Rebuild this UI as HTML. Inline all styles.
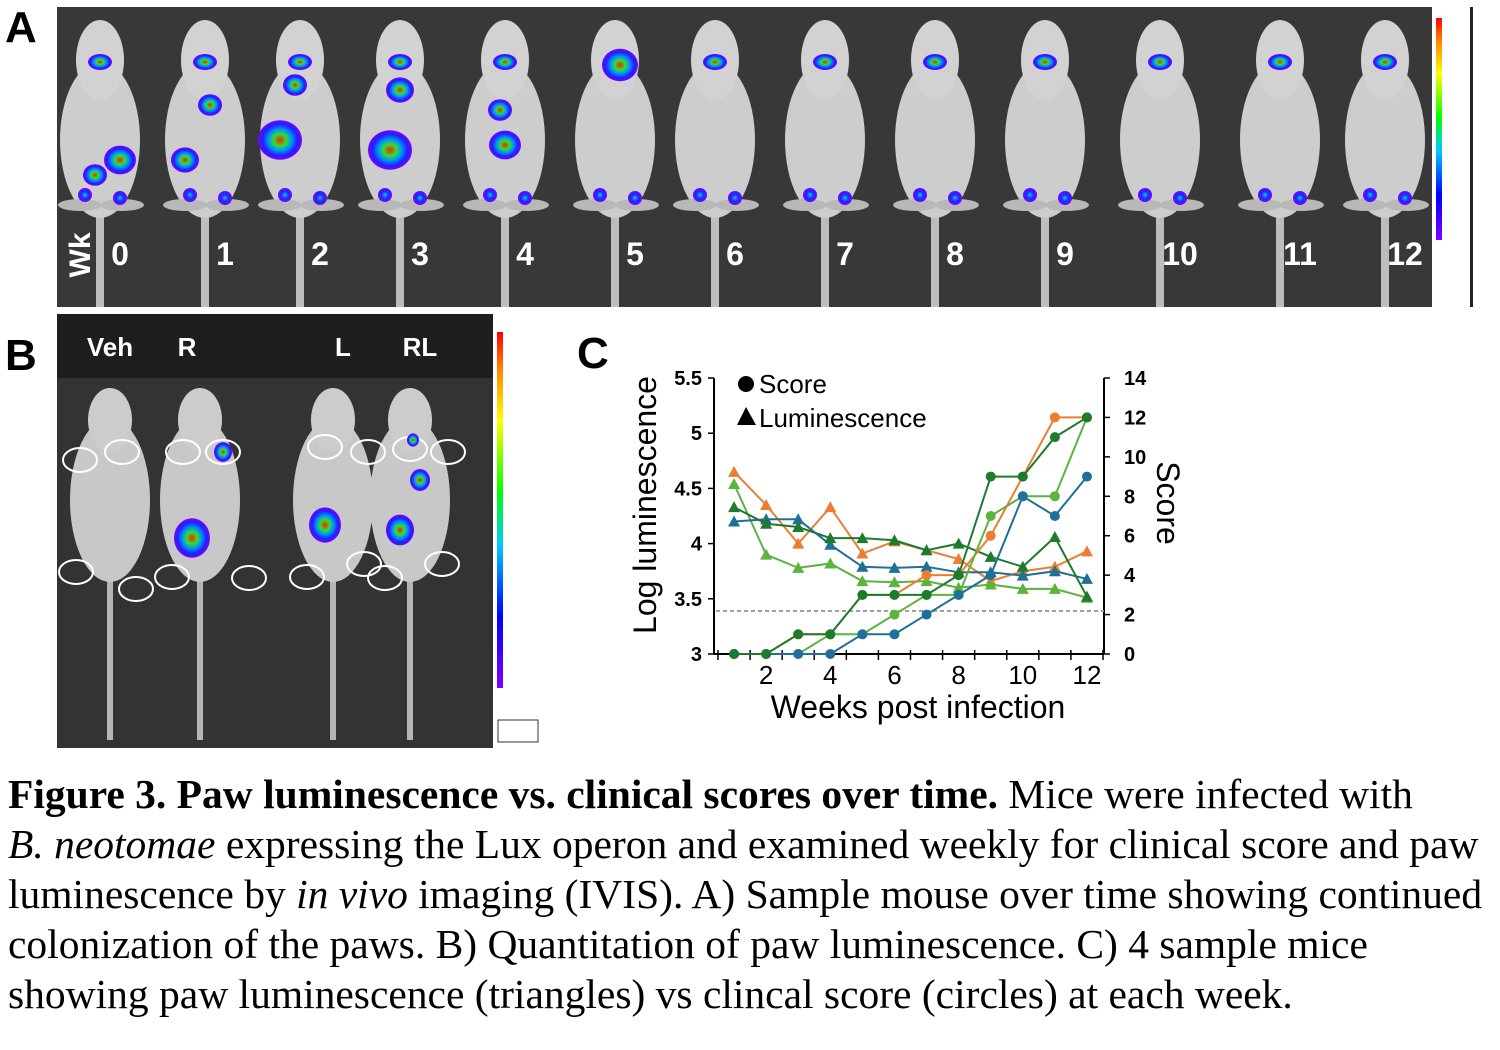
<!DOCTYPE html>
<html><head><meta charset="utf-8"><style>
html,body{margin:0;padding:0;background:#fff;}
#root{position:relative;width:1500px;height:1050px;overflow:hidden;font-family:"Liberation Sans",Arial,sans-serif;}
.cap{position:absolute;left:8px;font-family:"Liberation Serif","Times New Roman",serif;font-size:41.5px;white-space:nowrap;color:#000;line-height:46px;}
</style></head><body>
<div id="root">
<svg width="1500" height="760" style="position:absolute;left:0;top:0">
 <defs>
  <linearGradient id="cb" x1="0" y1="1" x2="0" y2="0">
   <stop offset="0" stop-color="#7f00ff"/><stop offset="0.2" stop-color="#0000ff"/><stop offset="0.4" stop-color="#00c8ff"/><stop offset="0.55" stop-color="#00ff00"/><stop offset="0.75" stop-color="#ffff00"/><stop offset="0.9" stop-color="#ff8000"/><stop offset="1" stop-color="#ff0000"/>
  </linearGradient>
  <radialGradient id="hot"><stop offset="0" stop-color="#ff2000"/><stop offset="0.3" stop-color="#30e030"/><stop offset="0.55" stop-color="#0090ff"/><stop offset="0.8" stop-color="#2020ff"/><stop offset="1" stop-color="#7a00ff"/></radialGradient>
  <radialGradient id="cool"><stop offset="0" stop-color="#20c0ff"/><stop offset="0.5" stop-color="#1030ff"/><stop offset="1" stop-color="#7a00ff"/></radialGradient>
 </defs>
 <text x="5" y="42" font-size="44" font-weight="bold" font-family="Liberation Sans">A</text>
 <text x="5" y="370" font-size="44" font-weight="bold" font-family="Liberation Sans">B</text>
 <text x="577" y="368" font-size="44" font-weight="bold" font-family="Liberation Sans">C</text>
 <g id="panelA">
  <rect x="57" y="7" width="1375" height="300" fill="#383838"/>
 </g>
 <rect x="1436" y="18" width="6" height="222" fill="url(#cb)"/>
 <rect x="1470" y="7" width="3" height="300" fill="#222"/>
 <g id="panelB">
  <rect x="57" y="314" width="436" height="434" fill="#333"/>
  <rect x="57" y="314" width="436" height="64" fill="#1e1e1e"/>
  <text x="110" y="356" fill="#fff" font-size="26" font-weight="bold" text-anchor="middle">Veh</text>
  <text x="187" y="356" fill="#fff" font-size="26" font-weight="bold" text-anchor="middle">R</text>
  <text x="343" y="356" fill="#fff" font-size="26" font-weight="bold" text-anchor="middle">L</text>
  <text x="420" y="356" fill="#fff" font-size="26" font-weight="bold" text-anchor="middle">RL</text>
 </g>
 <rect x="497" y="332" width="6" height="356" fill="url(#cb)"/>
 <rect x="498" y="720" width="40" height="22" fill="#fff" stroke="#333" stroke-width="1"/>
</svg>

<svg id="chart" width="1500" height="760" style="position:absolute;left:0;top:0"></svg>

<div class="cap" style="top:771px"><b>Figure 3. Paw luminescence vs. clinical scores over time.</b> Mice were infected with</div>
<div class="cap" style="top:821px"><i>B. neotomae</i> expressing the Lux operon and examined weekly for clinical score and paw</div>
<div class="cap" style="top:871px">luminescence by <i>in vivo</i> imaging (IVIS). A) Sample mouse over time showing continued</div>
<div class="cap" style="top:921px">colonization of the paws. B) Quantitation of paw luminescence. C) 4 sample mice</div>
<div class="cap" style="top:971px">showing paw luminescence (triangles) vs clincal score (circles) at each week.</div>
</div>
<script>
const NS='http://www.w3.org/2000/svg';
function mk(parent,tag,attrs,text){const e=document.createElementNS(NS,tag);for(const k in attrs)e.setAttribute(k,attrs[k]);if(text!==undefined)e.textContent=text;parent.appendChild(e);return e;}
const weekLabels=['0','1','2','3','4','5','6','7','8','9','10','11','12'];
const miceX=[100,205,300,400,505,615,715,825,935,1045,1160,1280,1385];
const pa=document.getElementById('panelA');
miceX.forEach((cx,i)=>{
 const g=mk(pa,'g',{});
 
 
 mk(g,'rect',{x:cx-4,y:200,width:8,height:107,fill:'#bdbdbd'});
 mk(g,'ellipse',{cx:cx,cy:140,rx:40,ry:78,fill:'#cdcdcd'});
 mk(g,'ellipse',{cx:cx,cy:60,rx:24,ry:40,fill:'#d2d2d2'});
 mk(g,'ellipse',{cx:cx-20,cy:205,rx:22,ry:6,fill:'#b8b8b8'});
 mk(g,'ellipse',{cx:cx+22,cy:205,rx:22,ry:6,fill:'#b8b8b8'});
 mk(g,'ellipse',{cx:cx,cy:62,rx:12,ry:8,fill:'url(#hot)'});
 mk(g,'circle',{cx:cx-15,cy:195,r:7,fill:'url(#cool)'});
 mk(g,'circle',{cx:cx+20,cy:198,r:7,fill:'url(#cool)'});
 mk(g,'text',{x:cx+20,y:265,fill:'#fff','font-size':32,'font-weight':'bold','text-anchor':'middle'},weekLabels[i]);
});
const blobs=[[120,160,16],[95,175,12],[185,160,14],[210,105,12],[280,140,22],[295,85,12],[400,90,14],[390,150,22],[500,110,12],[505,145,16],[620,65,18]];
blobs.forEach(b=>{mk(pa,'ellipse',{cx:b[0],cy:b[1],rx:b[2],ry:b[2]*0.9,fill:'url(#hot)'});});
mk(pa,'text',{x:90,y:255,fill:'#fff','font-size':30,'font-weight':'bold','text-anchor':'middle',transform:'rotate(-90 90 255)'},'Wk');
const pb=document.getElementById('panelB');
[110,200,333,410].forEach((cx,i)=>{
 const g=mk(pb,'g',{});
 
 
 mk(g,'rect',{x:cx-3,y:560,width:6,height:180,fill:'#b5b5b5'});
 mk(g,'ellipse',{cx:cx,cy:500,rx:40,ry:82,fill:'#c8c8c8'});
 mk(g,'ellipse',{cx:cx,cy:420,rx:22,ry:32,fill:'#cccccc'});
});
[[80,460],[122,452],[183,452],[223,452],[325,447],[368,452],[410,449],[448,452],[76,572],[136,589],[172,577],[249,578],[307,577],[364,564],[385,578],[442,564]].forEach(p=>{mk(pb,'ellipse',{cx:p[0],cy:p[1],rx:17,ry:12,fill:'none',stroke:'#fff','stroke-width':2});});
[[223,452,9],[192,538,18],[325,525,16],[400,530,14],[420,480,10],[413,440,6]].forEach(b=>{mk(pb,'ellipse',{cx:b[0],cy:b[1],rx:b[2],ry:b[2]*1.1,fill:'url(#hot)'});});

// ---- Chart C data
const weeks=[1,2,3,4,5,6,7,8,9,10,11,12];
const lumOrange=[4.65,4.35,4.0,4.33,3.91,4.02,3.94,3.86,3.66,3.75,3.79,3.93];
const lumDarkGreen=[4.33,4.18,4.15,4.05,4.05,4.03,3.94,4.0,3.88,3.79,4.06,3.52];
const lumBlue=[4.2,4.22,4.22,3.99,3.79,3.78,3.79,3.74,3.74,3.71,3.75,3.68];
const lumLightGreen=[4.54,3.9,3.78,3.82,3.66,3.65,3.66,3.6,3.63,3.59,3.59,3.51];
const scoreOrange=[0,0,1,1,3,3,4,4,6,9,12,12];
const scoreLightGreen=[0,0,0,1,1,2,3,3,7,8,8,12];
const scoreBlue=[0,0,0,0,1,1,2,3,4,8,7,9];
const scoreDarkGreen=[0,0,1,1,3,3,3,4,9,9,11,12];
const leftTicks=[3,3.5,4,4.5,5,5.5];
const rightTicks=[0,2,4,6,8,10,12,14];
const xTickLabels=[2,4,6,8,10,12];
const threshold=3.39;

const X0=718,X1=1103,Y0=654,Y1=378;
const xs=w=>X0+(w-0.5)/12*(X1-X0);
const yl=v=>Y0-(v-3)/2.5*(Y0-Y1);
const yr=v=>Y0-v/14*(Y0-Y1);
const c=document.getElementById('chart');
const axL=mk(c,'line',{x1:714,y1:Y1,x2:714,y2:Y0,stroke:'#000','stroke-width':2});

const axR=mk(c,'line',{x1:1104,y1:Y1,x2:1104,y2:Y0,stroke:'#000','stroke-width':2});

const axX=mk(c,'line',{x1:714,y1:Y0,x2:1104,y2:Y0,stroke:'#000','stroke-width':2});

leftTicks.forEach(t=>{
 mk(c,'line',{x1:708,y1:yl(t),x2:714,y2:yl(t),stroke:'#000','stroke-width':1.5});
 const e=mk(c,'text',{x:702,y:yl(t)+7,'text-anchor':'end','font-size':20,'font-weight':'bold'},String(t));
 
});
rightTicks.forEach(t=>{
 mk(c,'line',{x1:1104,y1:yr(t),x2:1110,y2:yr(t),stroke:'#000','stroke-width':1.5});
 const e=mk(c,'text',{x:1124,y:yr(t)+7,'text-anchor':'start','font-size':20,'font-weight':'bold'},String(t));
 
});
for(let i=0;i<=12;i++){const x=xs(i+0.5);mk(c,'line',{x1:x,y1:Y0-4,x2:x,y2:Y0+6,stroke:'#000','stroke-width':1.5});}
xTickLabels.forEach(t=>{
 const e=mk(c,'text',{x:xs(t),y:684,'text-anchor':'middle','font-size':26},String(t));
 
});
const th=mk(c,'line',{x1:716,y1:yl(threshold),x2:1104,y2:yl(threshold),stroke:'#999','stroke-width':1.8,'stroke-dasharray':'4,3'});

const xt=mk(c,'text',{x:918,y:718,'text-anchor':'middle','font-size':32},'Weeks post infection');

const ylt=mk(c,'text',{x:656,y:505,'text-anchor':'middle','font-size':32,transform:'rotate(-90 656 505)'},'Log luminescence');

const yrt=mk(c,'text',{x:1157,y:503,'text-anchor':'middle','font-size':32,transform:'rotate(90 1157 503)'},'Score');

function series(vals,yf,color,shape,name){
 const g=mk(c,'g',{});
 
 mk(g,'polyline',{points:vals.map((v,i)=>xs(weeks[i])+','+yf(v)).join(' '),fill:'none',stroke:color,'stroke-width':2});
 vals.forEach((v,i)=>{
  const x=xs(weeks[i]),y=yf(v);
  let m;
  if(shape==='c')m=mk(g,'circle',{cx:x,cy:y,r:5,fill:color});
  else m=mk(g,'polygon',{points:`${x},${y-6} ${x-6},${y+5} ${x+6},${y+5}`,fill:color});
  
  
 });
}
const cO='#ed7d31',cDG='#1e7b2e',cB='#1f6f98',cLG='#5cb33d';
series(lumOrange,yl,cO,'t','lum-orange');
series(lumLightGreen,yl,cLG,'t','lum-light-green');
series(lumBlue,yl,cB,'t','lum-blue');
series(lumDarkGreen,yl,cDG,'t','lum-dark-green');
series(scoreOrange,yr,cO,'c','score-orange');
series(scoreLightGreen,yr,cLG,'c','score-light-green');
series(scoreBlue,yr,cB,'c','score-blue');
series(scoreDarkGreen,yr,cDG,'c','score-dark-green');
const lg=mk(c,'g',{});

mk(lg,'circle',{cx:746,cy:384,r:8,fill:'#000'});
mk(lg,'text',{x:759,y:393,'font-size':26},'Score');
mk(lg,'polygon',{points:'746,407 737,425 756,425',fill:'#000'});
mk(lg,'text',{x:759,y:427,'font-size':26},'Luminescence');
</script>
</body></html>
